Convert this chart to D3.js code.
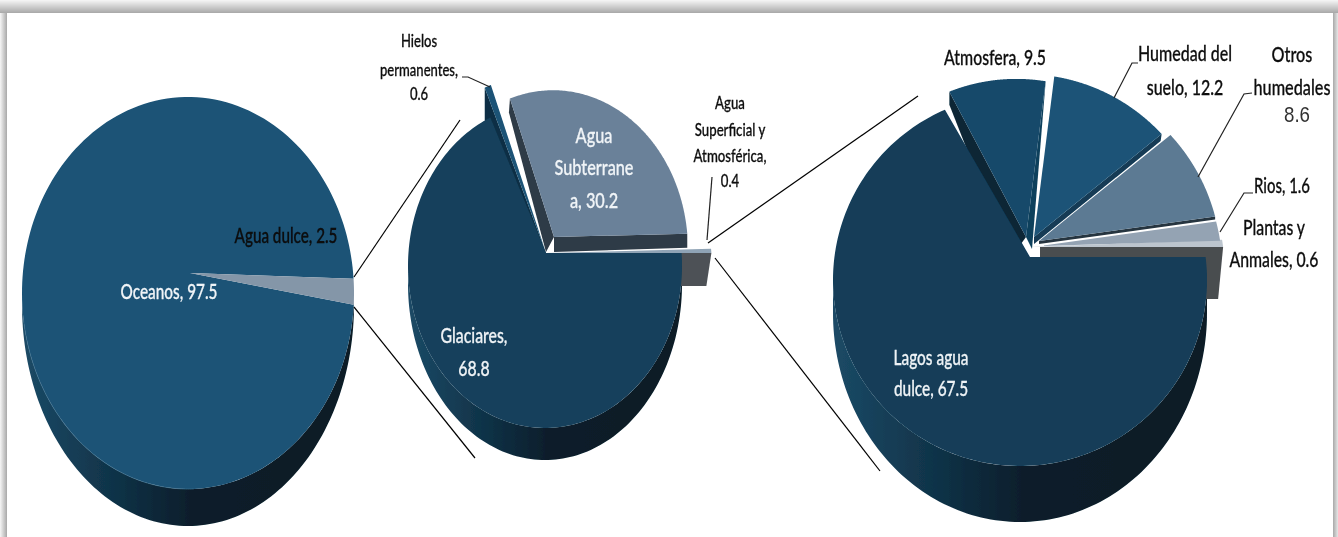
<!DOCTYPE html>
<html><head><meta charset="utf-8">
<style>html,body{margin:0;padding:0;background:#fff;overflow:hidden}svg{display:block}</style>
<script src="https://cdn.jsdelivr.net/npm/d3@7"></script></head><body>
<svg id="c" width="1338" height="537"></svg>
<script>
// ---- data ----
const mundoCategories = ["Oceanos", "Agua dulce"];
const mundoValues = [97.5, 2.5];
const dulceCategories = ["Glaciares", "Hielos permanentes", "Agua Subterranea", "Agua Superficial y Atmosférica"];
const dulceValues = [68.8, 0.6, 30.2, 0.4];
const superficialCategories = ["Lagos agua dulce", "Atmosfera", "Humedad del suelo", "Otros humedales", "Rios", "Plantas y Anmales"];
const superficialValues = [67.5, 9.5, 12.2, 8.6, 1.6, 0.6];

// ---- layout ----
const W = 1338, H = 537;
const deg = d3.scaleLinear().domain([0, 360]).range([0, 2 * Math.PI]);
const pies = [
  { cats: mundoCategories, vals: mundoValues, start: 101, apex: [190, 273], rim: true,
    top: { cx: 188, cy: 293, rx: 166, ry: 196 }, bot: { cx: 188, cy: 305, rx: 166, ry: 221 },
    order: [0, 1],
    slices: [{ fill: "#1a5276" }, { fill: "#8496a8" }] },
  { cats: dulceCategories, vals: dulceValues, start: 90, apex: [546, 253],
    top: { cx: 545, cy: 266, rx: 137, ry: 162 }, bot: { cx: 545, cy: 284, rx: 137, ry: 176 },
    order: [2, 3, 1, 0],
    slices: [
      { fill: "#143f5b" },
      { fill: "#1a5276", k: 1.2, nudge: 2, faces: [{ edge: 0, tip: [0, 32], apex: [0, 40], fill: "#0e2f44" }] },
      { fill: "#6a8199", dx: 8, dy: -16, k: 0.985, nudgeStart: 2.5, faces: [
        { edge: 0, tip: [-1, 14], apex: [-8, 15], fill: "#2d3a46" },
        { edge: 1, tip: [0, 14], apex: [0, 15], fill: "#2d3a46" }] },
      { fill: "#8fa3b5", k: 1.22, faces: [{ edge: 1, tip: [-5, 33], apex: [0, 33], from: 120, fill: "#4d5156" }] }
    ] },
  { cats: superficialCategories, vals: superficialValues, start: 90, apex: [1030, 257],
    top: { cx: 1020, cy: 280, rx: 187, ry: 186 }, bot: { cx: 1020, cy: 313, rx: 187, ry: 209 },
    order: [5, 1, 2, 3, 4, 0],
    slices: [
      { fill: "#123d59", nudgeEnd: -3 },
      { fill: "#174a6b", dx: -4, dy: -20, k: 0.97, nudgeStart: -0.8, faces: [
        { edge: 0, tip: [0, 13], apex: [-16, 22], fill: "#0a2535" },
        { edge: 1, tip: [0, 0], apex: [6, 12], fill: "#10405c" }] },
      { fill: "#1b5377", dx: 4, dy: -20, faces: [{ edge: 1, tip: [-1, 7], apex: [0, 7], fill: "#123a55" }] },
      { fill: "#5c7a93", dx: 9, dy: -16, k: 1.03, faces: [{ edge: 1, tip: [0, 3], apex: [0, 3], fill: "#26343f" }] },
      { fill: "#94a3b3", dx: 10, dy: -11, k: 1.03, nudgeEnd: 0.5 },
      { fill: "#bcc5ce", dy: -10, k: 1.1, faces: [{ edge: 1, tip: [-5, 52], apex: [0, 52], from: 10, fill: "#4a4d50" }] }
    ] }
];
const connectors = [
  [[354, 277], [460, 120]], [[354, 307], [475, 458]],
  [[708, 243], [918, 96]], [[715, 258], [880, 471]]
];
const leaders = [
  [[462, 77], [468, 77], [490, 87]],
  [[712, 177], [707, 240]],
  [[1138, 63], [1132, 63], [1114, 98]],
  [[1252, 93], [1244, 94], [1198, 177]],
  [[1253, 193], [1244, 193], [1220, 232]]
];
const labels = [
  { lines: ["Agua dulce, 2.5"], x: 286, y: [243], w: 103, size: 22, fill: "#0b0b0b" },
  { lines: ["Oceanos, 97.5"], x: 169, y: [299], w: 97, size: 22, fill: "#f0f4f7" },
  { lines: ["Hielos", "permanentes,", "0.6"], x: 419, y: [47, 76, 100], w: 78, size: 17, fill: "#111" },
  { lines: ["Glaciares,", "68.8"], x: 474, y: [343, 376], w: 67, size: 22, fill: "#eef2f5" },
  { lines: ["Agua", "Subterrane", "a, 30.2"], x: 594, y: [143, 175, 208], w: 79, size: 22, fill: "#f0f4f7" },
  { lines: ["Agua", "Superficial y", "Atmosférica,", "0.4"], x: 730, y: [109, 136, 162, 187], w: 73, size: 17, fill: "#111" },
  { lines: ["Lagos agua", "dulce, 67.5"], x: 931, y: [365, 396], w: 75, size: 22, fill: "#eef2f5" },
  { lines: ["Atmosfera, 9.5"], x: 995, y: [65], w: 102, size: 22, fill: "#111" },
  { lines: ["Humedad del", "suelo, 12.2"], x: 1185, y: [61, 95], w: 94, size: 22, fill: "#111" },
  { lines: ["Otros", "humedales"], x: 1292, y: [62, 95], w: 77, size: 22, fill: "#111" },
  { lines: ["8.6"], x: 1297, y: [122], w: 26, size: 22, fill: "#333", font: "Liberation Sans", weight: 400, thin: true },
  { lines: ["Rios, 1.6"], x: 1282, y: [193], w: 56, size: 22, fill: "#111" },
  { lines: ["Plantas y", "Anmales, 0.6"], x: 1274, y: [235, 267], w: 89, size: 22, fill: "#111" }
];

// ---- draw ----
const svg = d3.select("#c");
const defs = svg.append("defs");
function grad(id, x1, y1, x2, y2, stops) {
  const g = defs.append("linearGradient").attr("id", id)
    .attr("x1", x1).attr("y1", y1).attr("x2", x2).attr("y2", y2);
  stops.forEach(s => g.append("stop").attr("offset", s[0]).attr("stop-color", s[1]));
}
grad("gTop", 0, 0, 0, 1, [[0, "#f6f6f6"], [1, "#a8a8a8"]]);
grad("gLeft", 0, 0, 1, 0, [[0, "#f6f6f6"], [1, "#a8a8a8"]]);
grad("gRight", 0, 0, 1, 0, [[0, "#a8a8a8"], [1, "#e6e6e6"]]);
grad("gWall", 0, 0, 1, 0, [[0, "#1b4a66"], [0.25, "#11354b"], [0.52, "#071d2a"], [1, "#071a26"]]);
defs.append("filter").attr("id", "soft").attr("x", "-2%").attr("y", "-2%").attr("width", "104%").attr("height", "104%")
  .append("feGaussianBlur").attr("stdDeviation", 0.4);

svg.append("rect").attr("width", W).attr("height", H).attr("fill", "#fff");
svg.append("rect").attr("width", 7).attr("height", H).attr("fill", "url(#gLeft)");
svg.append("rect").attr("x", 1333).attr("width", 5).attr("height", H).attr("fill", "url(#gRight)");
svg.append("rect").attr("width", W).attr("height", 13).attr("fill", "url(#gTop)");

const chart = svg.append("g").attr("filter", "url(#soft)");
const line = d3.line();

// distance along a ray from (ax, ay) at angle t (clockwise from 12) to an ellipse
function rayRadius(ax, ay, t, e) {
  const s = Math.sin(t), c = -Math.cos(t);
  const px = (ax - e.cx) / e.rx, py = (ay - e.cy) / e.ry;
  const dx = s / e.rx, dy = c / e.ry;
  const A = dx * dx + dy * dy, B = 2 * (px * dx + py * dy), C = px * px + py * py - 1;
  return (-B + Math.sqrt(B * B - 4 * A * C)) / (2 * A);
}
function ellipsePts(e, a0, a1) {
  return d3.range(0, 121).map(i => {
    const t = a0 + (a1 - a0) * i / 120;
    return [e.cx + e.rx * Math.sin(t), e.cy - e.ry * Math.cos(t)];
  });
}

pies.forEach(p => {
  const arcs = d3.pie().sort(null).startAngle(deg(p.start)).endAngle(deg(p.start + 360))(p.vals);
  // outer wall
  const q = [deg(90), deg(270)];
  chart.append("path")
    .attr("d", line(ellipsePts(p.top, q[0], q[1]).concat(ellipsePts(p.bot, q[0], q[1]).reverse())) + "Z")
    .attr("fill", "url(#gWall)");
  p.order.forEach(i => {
    const a = arcs[i], st = p.slices[i];
    const k = st.k || 1, dx = st.dx || 0, dy = st.dy || 0;
    const a0 = a.startAngle + deg((st.nudge || 0) + (st.nudgeStart || 0));
    const a1 = a.endAngle + deg((st.nudge || 0) + (st.nudgeEnd || 0));
    const [ax, ay] = p.apex;
    const pt = t => {
      const r = rayRadius(ax, ay, t, p.top) * k;
      return [ax + dx + r * Math.sin(t), ay + dy - r * Math.cos(t)];
    };
    const apx = [ax + dx, ay + dy];
    (st.faces || []).forEach(f => {
      const t = f.edge ? a1 : a0;
      const tip = pt(t);
      const from = f.from || 0;
      const base = [apx[0] + from * Math.sin(t), apx[1] - from * Math.cos(t)];
      chart.append("path").attr("d", line([
        base, tip, [tip[0] + f.tip[0], tip[1] + f.tip[1]], [base[0] + f.apex[0], base[1] + f.apex[1]]
      ]) + "Z").attr("fill", f.fill);
    });
    const steps = d3.range(0, 181).map(j => pt(a0 + (a1 - a0) * j / 180));
    chart.append("path").attr("d", line([apx].concat(steps)) + "Z").attr("fill", st.fill);
  });
  if (p.rim) {
    chart.append("path").attr("d", line(ellipsePts(p.top, deg(178), deg(262))))
      .attr("fill", "none").attr("stroke", "#3f708e").attr("stroke-width", 1).attr("opacity", 0.7);
  }
});

[connectors, leaders].forEach((set, n) => set.forEach(l => {
  chart.append("path").attr("d", line(l)).attr("fill", "none")
    .attr("stroke", n ? "#222" : "#000").attr("stroke-width", 1.2);
}));

labels.forEach(L => {
  const g = chart.append("g");
  const ts = L.lines.map((t, i) => g.append("text").text(t).attr("x", 0).attr("y", L.y[i])
    .attr("text-anchor", "middle").attr("font-family", L.font || "Lato, Carlito, sans-serif")
    .attr("font-size", L.size).attr("font-weight", L.weight || 500).attr("fill", L.fill)
    .attr("stroke", L.thin ? "none" : L.fill).attr("stroke-width", 0.3));
  const maxW = d3.max(ts, t => t.node().getComputedTextLength());
  g.attr("transform", `translate(${L.x},0) scale(${L.w / maxW},1)`);
});
</script></body></html>
